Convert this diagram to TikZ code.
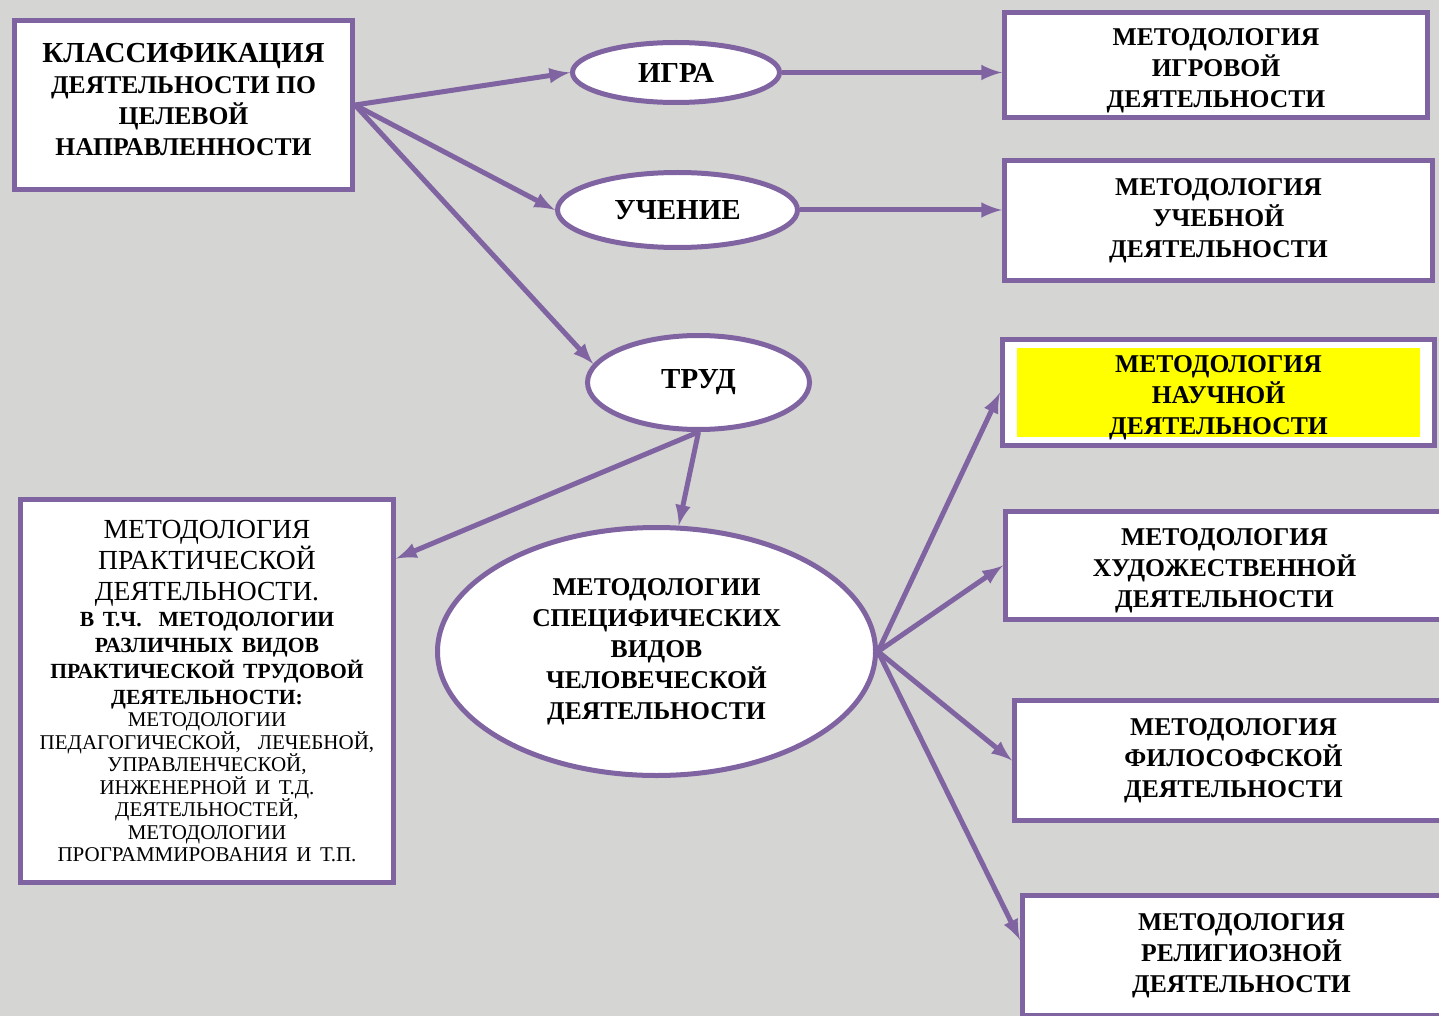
\documentclass[tikz,border=0pt]{standalone}
\usepackage{fontspec}
\setmainfont{Liberation Serif}
\usetikzlibrary{shapes.geometric}
\definecolor{lilac}{RGB}{128,100,162}
\definecolor{slidebg}{RGB}{213,213,211}
\definecolor{hilite}{RGB}{255,255,0}
\newcommand{\lowtext}{\rule{0pt}{14pt}}
\newcommand{\hightext}{\rule[-6pt]{0pt}{6pt}}
\tikzset{
  box/.style={draw=lilac, line width=2.5pt, fill=white, rectangle, inner sep=0pt, align=center,
    font=\fontsize{12.8}{15.5}\selectfont\bfseries},
  oval/.style={draw=lilac, line width=2.5pt, fill=white, ellipse, inner sep=0pt, align=center,
    font=\fontsize{14.5}{15.5}\selectfont\bfseries},
  link/.style={draw=lilac, line width=2.5pt, -latex}
}
\begin{document}
\begin{tikzpicture}[x=0.5pt,y=-0.5pt]
    \fill[slidebg] (0,0) rectangle (1439,1016);
    \useasboundingbox (0,0) rectangle (1439,1016);
    \clip (0,0) rectangle (1439,1016);
    \node[box, minimum width=169pt, minimum height=84.5pt] (cls) at (183.5,105)
        {{\fontsize{14.5}{15.5}\selectfont КЛАССИФИКАЦИЯ}\\ДЕЯТЕЛЬНОСТИ ПО\\ЦЕЛЕВОЙ\\НАПРАВЛЕННОСТИ\hightext};
    \node[oval, minimum width=103.5pt, minimum height=30pt] (igra) at (676,72.5) {ИГРА};
    \node[oval, minimum width=120pt, minimum height=37.5pt] (uch) at (677.5,210) {УЧЕНИЕ};
    \node[oval, minimum width=111pt, minimum height=47pt] (trud) at (698.5,382.5) {ТРУД};
    \node[oval, font=\fontsize{12.8}{15.5}\selectfont\bfseries, minimum width=219pt, minimum height=124pt] (spec) at (656.5,651.5)
        {МЕТОДОЛОГИИ\\СПЕЦИФИЧЕСКИХ\\ВИДОВ\\ЧЕЛОВЕЧЕСКОЙ\\ДЕЯТЕЛЬНОСТИ};
    \node[box, text width=182pt, minimum width=186.5pt, minimum height=191.5pt] (prak) at (207,691)
        {{\fontsize{13.8}{15.5}\selectfont\mdseries МЕТОДОЛОГИЯ\\ПРАКТИЧЕСКОЙ\\ДЕЯТЕЛЬНОСТИ.\par}
         {\fontsize{10.8}{13}\selectfont В Т.Ч.~~МЕТОДОЛОГИИ\\РАЗЛИЧНЫХ ВИДОВ\\ПРАКТИЧЕСКОЙ ТРУДОВОЙ\\ДЕЯТЕЛЬНОСТИ:\par}
         {\fontsize{10.5}{11.25}\selectfont\mdseries МЕТОДОЛОГИИ\\ПЕДАГОГИЧЕСКОЙ,~~ЛЕЧЕБНОЙ,\\УПРАВЛЕНЧЕСКОЙ,\\ИНЖЕНЕРНОЙ И Т.Д.\\ДЕЯТЕЛЬНОСТЕЙ,\\МЕТОДОЛОГИИ\\ПРОГРАММИРОВАНИЯ И Т.П.\par}};
    \node[box, minimum width=211.5pt, minimum height=52.5pt] (igrm) at (1216,65) {\lowtext МЕТОДОЛОГИЯ\\ИГРОВОЙ\\ДЕЯТЕЛЬНОСТИ};
    \node[box, minimum width=214pt, minimum height=60pt] (uchm) at (1218.5,220.5) {МЕТОДОЛОГИЯ\\УЧЕБНОЙ\\ДЕЯТЕЛЬНОСТИ};
    \node[box, minimum width=216pt, minimum height=53pt,
        path picture={\fill[hilite] ([shift={(7.25pt,-4.25pt)}]path picture bounding box.north west)
            rectangle ([shift={(-7.25pt,4.25pt)}]path picture bounding box.south east);}] (nauch) at (1218.5,392.5)
        {\lowtext МЕТОДОЛОГИЯ\\НАУЧНОЙ\\ДЕЯТЕЛЬНОСТИ};
    \node[box, minimum width=219pt, minimum height=54pt] (hud) at (1224.5,565.5) {\lowtext МЕТОДОЛОГИЯ\\ХУДОЖЕСТВЕННОЙ\\ДЕЯТЕЛЬНОСТИ};
    \node[box, minimum width=219pt, minimum height=60pt] (filos) at (1233.5,760.5) {МЕТОДОЛОГИЯ\\ФИЛОСОФСКОЙ\\ДЕЯТЕЛЬНОСТИ};
    \node[box, minimum width=219pt, minimum height=60pt] (relig) at (1241.5,955.5) {МЕТОДОЛОГИЯ\\РЕЛИГИОЗНОЙ\\ДЕЯТЕЛЬНОСТИ};
    \draw[link] (cls.east) -- (igra.west);
    \draw[link] (cls.east) -- (uch.west);
    \draw[link] (cls.east) -- (trud.170);
    \draw[link] (igra.east) -- (igra.east -| igrm.west);
    \draw[link] (uch.east) -- (uch.east -| uchm.west);
    \draw[link] (trud.south) -- (prak.35);
    \draw[link] (trud.south) -- (spec.80);
    \foreach \dst/\anc in {nauch/west, hud/west, filos/west, relig/176}
        \draw[link] (spec.east) -- (\dst.\anc);
\end{tikzpicture}
\end{document}
